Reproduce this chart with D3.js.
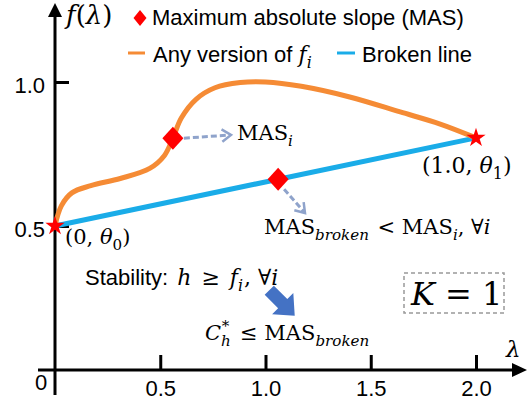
<!DOCTYPE html>
<html>
<head>
<meta charset="utf-8">
<script src="https://cdn.jsdelivr.net/npm/d3@7"></script>
<style>
  body { margin: 0; background: #fff; }
  .s { font-family: "Liberation Sans", Arial, sans-serif; }
  .m { font-family: "DejaVu Serif", "Liberation Serif", serif; }
</style>
</head>
<body>
<script>
var width = 528,
  height = 404;

// values
var xTicks = [0.5, 1.0, 1.5, 2.0];
var yTicks = [0.5, 1.0];
var anyLambda = [0, 0.03, 0.08, 0.17, 0.31, 0.45, 0.52, 0.56, 0.60, 0.67, 0.76, 0.88, 1.0, 1.17, 1.40, 1.64, 1.83, 2.0];
var anyF = [0.5, 0.57, 0.615, 0.64, 0.665, 0.70, 0.745, 0.805, 0.875, 0.94, 0.98, 0.998, 1.0, 0.985, 0.948, 0.896, 0.854, 0.806];
var brokenLambda = [0, 2.0];
var brokenF = [0.5, 0.806];
var masLambda = [0.56, 1.06];
var masF = [0.805, 0.662];
var starLambda = [0, 2.0];
var starF = [0.5, 0.806];

var orange = "#F58B35",
  blue = "#1AACE8",
  red = "#FF0000",
  dashBlue = "#8FA3CB";

var x = d3.scaleLinear().domain([0, 2]).range([55, 476]);
var y = d3.scaleLinear().domain([0, 1]).range([370, 82]);

var svg = d3.select("body").append("svg")
  .attr("width", width)
  .attr("height", height);

// axes
var xAxis = svg.append("g")
  .attr("transform", "translate(0," + y(0) + ")")
  .call(d3.axisBottom(x).tickValues(xTicks).tickSize(-15).tickPadding(10).tickFormat(d3.format(".1f")));
var yAxis = svg.append("g")
  .attr("transform", "translate(" + x(0) + ",0)")
  .call(d3.axisLeft(y).tickValues(yTicks).tickSize(-14).tickPadding(10).tickFormat(d3.format(".1f")));

[xAxis, yAxis].forEach(function(a) {
  a.select(".domain").remove();
  a.selectAll("line").attr("stroke", "#000").attr("stroke-width", 3);
  a.selectAll("text").attr("class", "s").attr("font-size", 22).attr("fill", "#000");
});
yAxis.selectAll("text").attr("dy", "0.47em");

// axis lines with arrow heads
svg.append("line").attr("x1", 38).attr("x2", 516).attr("y1", y(0)).attr("y2", y(0))
  .attr("stroke", "#000").attr("stroke-width", 3);
svg.append("path").attr("d", d3.line()([[527, y(0)], [512, y(0) - 7], [512, y(0) + 7]]) + "Z");
svg.append("line").attr("x1", x(0)).attr("x2", x(0)).attr("y1", 395).attr("y2", 14)
  .attr("stroke", "#000").attr("stroke-width", 3);
svg.append("path").attr("d", d3.line()([[x(0), 3], [x(0) - 7, 17], [x(0) + 7, 17]]) + "Z");

svg.append("text").attr("class", "s").attr("font-size", 22)
  .attr("x", 41).attr("y", 390).attr("text-anchor", "middle").text("0");

// curves
var line = d3.line()
  .x(function(d) { return x(d[0]); })
  .y(function(d) { return y(d[1]); });

svg.append("path")
  .attr("d", line.curve(d3.curveLinear)(d3.zip(brokenLambda, brokenF)))
  .attr("fill", "none").attr("stroke", blue).attr("stroke-width", 5);

svg.append("path")
  .attr("d", line.curve(d3.curveCatmullRom.alpha(0.5))(d3.zip(anyLambda, anyF)))
  .attr("fill", "none").attr("stroke", orange).attr("stroke-width", 5)
  .attr("stroke-linecap", "round");

function diamond(w, h) {
  return "M0," + (-h / 2) + "L" + (w / 2) + ",0L0," + (h / 2) + "L" + (-w / 2) + ",0Z";
}

svg.selectAll(".mas")
  .data(d3.zip(masLambda, masF))
  .enter().append("path")
  .attr("class", "mas")
  .attr("transform", function(d) { return "translate(" + x(d[0]) + "," + y(d[1]) + ")"; })
  .attr("d", diamond(21, 23))
  .attr("fill", red);

svg.selectAll(".star")
  .data(d3.zip(starLambda, starF))
  .enter().append("path")
  .attr("class", "star")
  .attr("transform", function(d) { return "translate(" + x(d[0]) + "," + y(d[1]) + ")"; })
  .attr("d", d3.symbol(d3.symbolStar, 115))
  .attr("fill", red);

// dashed arrows from the MAS markers
function dashArrow(x1, y1, x2, y2) {
  var a = Math.atan2(y2 - y1, x2 - x1), l = 11, s = 0.6;
  svg.append("line").attr("x1", x1).attr("y1", y1).attr("x2", x2 - 2 * Math.cos(a)).attr("y2", y2 - 2 * Math.sin(a))
    .attr("stroke", dashBlue).attr("stroke-width", 3).attr("stroke-dasharray", "6,3");
  svg.append("path")
    .attr("d", d3.line()([
      [x2 - l * Math.cos(a - s), y2 - l * Math.sin(a - s)],
      [x2, y2],
      [x2 - l * Math.cos(a + s), y2 - l * Math.sin(a + s)]]))
    .attr("fill", "none").attr("stroke", dashBlue).attr("stroke-width", 2.5);
}
dashArrow(x(masLambda[0]) + 11, y(masF[0]), 231, 135);
dashArrow(x(masLambda[1]) + 6, y(masF[1]) + 10, 305, 213);

// big blue arrow
svg.append("path")
  .attr("transform", "translate(282,303) rotate(45)")
  .attr("d", "M-18,-6.5L1,-6.5L1,-15L18,0L1,15L1,6.5L-18,6.5Z")
  .attr("fill", "#4472C4");

// rich text helper
function rich(x0, y0, fs, parts) {
  var t = svg.append("text").attr("x", x0).attr("y", y0).attr("font-size", fs);
  var shift = 0;
  parts.forEach(function(p) {
    var target = 0, size = fs;
    if (p.p === "sub") { target = fs * 0.28; size = fs * 0.72; }
    if (p.p === "sup") { target = -fs * 0.45; size = fs * 0.72; }
    var sp = t.append("tspan").text(p.t)
      .attr("class", p.f === "s" ? "s" : "m")
      .attr("font-size", size)
      .attr("dy", target - shift);
    if (p.dx) sp.attr("dx", p.dx);
    if (p.f === "i") sp.attr("font-style", "italic");
    shift = target;
  });
  return t;
}

// legend
svg.append("path").attr("transform", "translate(140,18)").attr("d", diamond(13, 16)).attr("fill", red);
rich(152, 25, 22, [{ t: "Maximum absolute slope (MAS)", f: "s" }]);
svg.append("line").attr("x1", 128).attr("x2", 145).attr("y1", 53).attr("y2", 53)
  .attr("stroke", orange).attr("stroke-width", 3);
rich(153, 62, 22, [{ t: "Any version of ", f: "s" }, { t: "f", f: "i" }, { t: "i", f: "i", p: "sub" }]);
svg.append("line").attr("x1", 337).attr("x2", 355).attr("y1", 53).attr("y2", 53)
  .attr("stroke", blue).attr("stroke-width", 3);
rich(362, 62, 22, [{ t: "Broken line", f: "s" }]);

// axis titles
rich(66, 24, 26, [{ t: "f", f: "i" }, { t: "(", f: "r" }, { t: "λ", f: "i" }, { t: ")", f: "r" }]);
rich(506, 357, 23, [{ t: "λ", f: "i" }]);

// annotations
rich(237, 140, 21, [{ t: "MAS", f: "r" }, { t: "i", f: "i", p: "sub" }]);
rich(65, 244, 21, [{ t: "(0, ", f: "r" }, { t: "θ", f: "i" }, { t: "0", f: "r", p: "sub" }, { t: ")", f: "r" }]);
rich(422, 173, 22, [{ t: "(1.0, ", f: "r" }, { t: "θ", f: "i" }, { t: "1", f: "r", p: "sub" }, { t: ")", f: "r" }]);
rich(264, 234, 21, [
  { t: "MAS", f: "r" }, { t: "broken", f: "i", p: "sub" },
  { t: " < MAS", f: "r", dx: 2 }, { t: "i", f: "i", p: "sub" },
  { t: ", ∀", f: "r" }, { t: "i", f: "i" }]);
rich(85, 285, 22, [
  { t: "Stability: ", f: "s" }, { t: "h", f: "i", dx: 3 }, { t: " ≥ ", f: "r", dx: 3 },
  { t: "f", f: "i", dx: 3 }, { t: "i", f: "i", p: "sub" }, { t: ", ∀", f: "r", dx: 1 }, { t: "i", f: "i" }]);
rich(205, 340, 21, [
  { t: "C", f: "i" }, { t: "h", f: "i", p: "sub" }, { t: "*", f: "r", p: "sup", dx: -9 },
  { t: " ≤ MAS", f: "r", dx: 4 }, { t: "broken", f: "i", p: "sub" }]);

svg.append("rect").attr("x", 404).attr("y", 273).attr("width", 100).attr("height", 40)
  .attr("fill", "none").attr("stroke", "#999").attr("stroke-width", 1.5).attr("stroke-dasharray", "4,3");
rich(411, 305, 32, [{ t: "K", f: "i" }, { t: " = 1", f: "r" }]);
</script>
</body>
</html>
